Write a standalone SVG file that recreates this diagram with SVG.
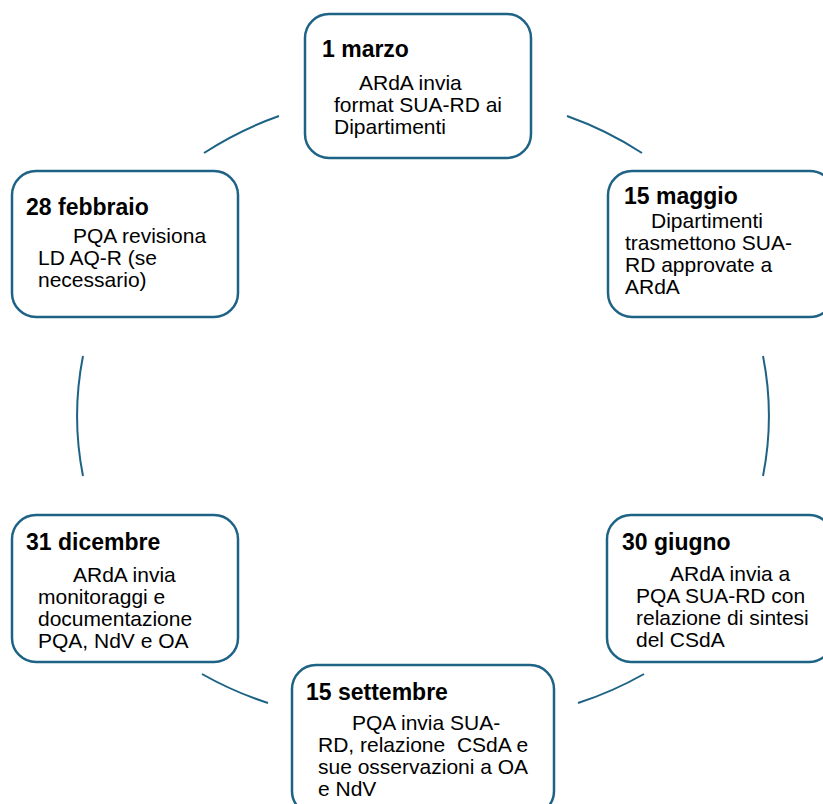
<svg xmlns="http://www.w3.org/2000/svg" width="823" height="804" viewBox="0 0 823 804">
<style>
.box{fill:#ffffff;stroke:#1e6385;stroke-width:2.5}
.arc{fill:none;stroke:#1e6385;stroke-width:2}
.t{font-family:"Liberation Sans",Arial,sans-serif;font-weight:bold;font-size:23px;fill:#000}
.b{font-family:"Liberation Sans",Arial,sans-serif;font-size:21px;fill:#000}
</style>
<rect width="823" height="804" fill="#ffffff"/>
<g id="connectors">
<path class="arc" d="M204,153 A345,326 0 0 1 279,116"/>
<path class="arc" d="M567,116 A345,326 0 0 1 642,153"/>
<path class="arc" d="M763,356 A345,326 0 0 1 763,476"/>
<path class="arc" d="M644,674 A345,326 0 0 1 578,703"/>
<path class="arc" d="M268,703 A345,326 0 0 1 202,674"/>
<path class="arc" d="M83,476 A345,326 0 0 1 83,356"/>
</g>
<g id="node-1marzo">
<rect class="box" x="305" y="14" width="226" height="144" rx="24"/>
<text class="t" x="322" y="57">1 marzo</text>
<text class="b" x="359" y="90">ARdA invia</text>
<text class="b" x="334" y="112">format SUA-RD ai</text>
<text class="b" x="334" y="134">Dipartimenti</text>
</g>
<g id="node-15maggio">
<rect class="box" x="608" y="171" width="226" height="146" rx="24"/>
<text class="t" x="624" y="204">15 maggio</text>
<text class="b" x="651" y="228">Dipartimenti</text>
<text class="b" x="625" y="250">trasmettono SUA-</text>
<text class="b" x="625" y="272">RD approvate a</text>
<text class="b" x="625" y="294">ARdA</text>
</g>
<g id="node-30giugno">
<rect class="box" x="607" y="515" width="226" height="147" rx="24"/>
<text class="t" x="622" y="550">30 giugno</text>
<text class="b" x="670" y="581">ARdA invia a</text>
<text class="b" x="636" y="603">PQA SUA-RD con</text>
<text class="b" x="636" y="625">relazione di sintesi</text>
<text class="b" x="636" y="647">del CSdA</text>
</g>
<g id="node-15settembre">
<rect class="box" x="292" y="665" width="262" height="150" rx="24"/>
<text class="t" x="306" y="700">15 settembre</text>
<text class="b" x="352" y="730">PQA invia SUA-</text>
<text class="b" x="318" y="752" xml:space="preserve">RD, relazione  CSdA e</text>
<text class="b" x="318" y="774">sue osservazioni a OA</text>
<text class="b" x="318" y="796">e NdV</text>
</g>
<g id="node-31dicembre">
<rect class="box" x="12" y="515" width="226" height="147" rx="24"/>
<text class="t" x="26" y="550">31 dicembre</text>
<text class="b" x="73" y="582">ARdA invia</text>
<text class="b" x="38" y="604">monitoraggi e</text>
<text class="b" x="38" y="626">documentazione</text>
<text class="b" x="38" y="648">PQA, NdV e OA</text>
</g>
<g id="node-28febbraio">
<rect class="box" x="12" y="171" width="226" height="146" rx="24"/>
<text class="t" x="26" y="215">28 febbraio</text>
<text class="b" x="73" y="243">PQA revisiona</text>
<text class="b" x="38" y="265">LD AQ-R (se</text>
<text class="b" x="38" y="287">necessario)</text>
</g>
</svg>
